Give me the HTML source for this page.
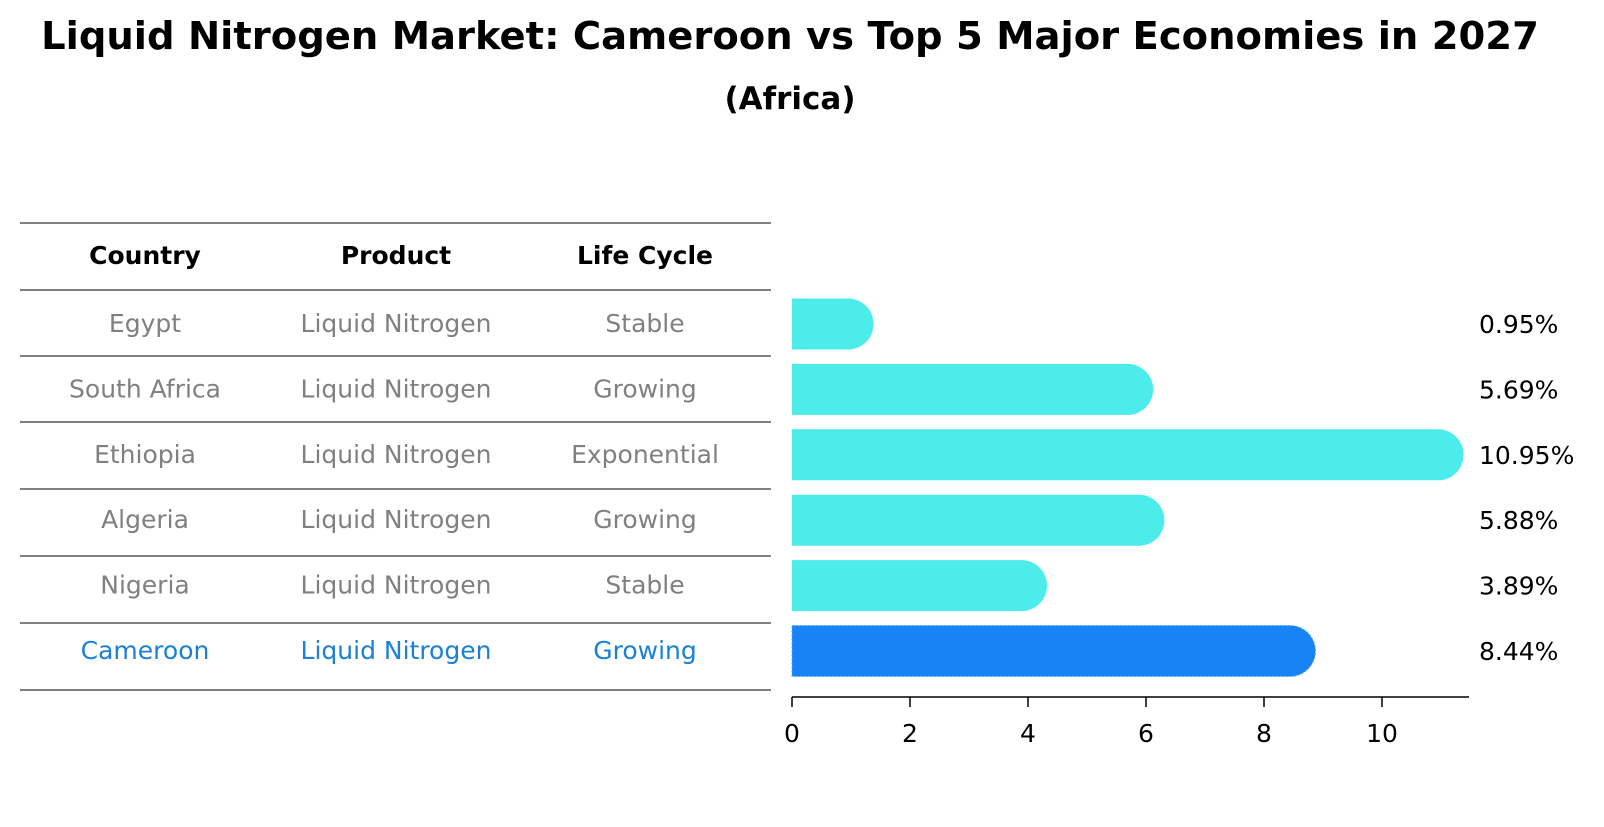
<!DOCTYPE html>
<html><head><meta charset="utf-8"><style>
body{margin:0;background:#fff;font-family:"DejaVu Sans","Liberation Sans",sans-serif;}
</style></head><body>
<svg width="1604" height="823" xmlns="http://www.w3.org/2000/svg" font-family="DejaVu Sans, Liberation Sans, sans-serif">
<text x="790" y="49" text-anchor="middle" font-size="38.5" font-weight="bold">Liquid Nitrogen Market: Cameroon vs Top 5 Major Economies in 2027</text>
<text x="790" y="109" text-anchor="middle" font-size="31" font-weight="bold">(Africa)</text>
<g id="table"></g>
<g id="bars"></g>
</svg>
<script>
const countries=["Egypt","South Africa","Ethiopia","Algeria","Nigeria","Cameroon"];
const products=["Liquid Nitrogen","Liquid Nitrogen","Liquid Nitrogen","Liquid Nitrogen","Liquid Nitrogen","Liquid Nitrogen"];
const lifeCycles=["Stable","Growing","Exponential","Growing","Stable","Growing"];
const values=[0.95,5.69,10.95,5.88,3.89,8.44];
const ticks=[0,2,4,6,8,10];
const NS="http://www.w3.org/2000/svg";
function mk(tag,attrs,parent,txt){const e=document.createElementNS(NS,tag);for(const k in attrs)e.setAttribute(k,attrs[k]);if(txt!==undefined)e.textContent=txt;parent.appendChild(e);return e;}
const xS=v=>792+v*59;
const rowY=i=>324+i*65.4;
const tbl=document.getElementById('table');
const lineYs=[223,290,356,422,489,556,623,690];
lineYs.forEach((y,i)=>{const l=mk('line',{x1:20,x2:771,y1:y,y2:y,stroke:'#000','stroke-width':1},tbl);

});
const colX=[145,396,645];
["Country","Product","Life Cycle"].forEach((h,j)=>{const t=mk('text',{x:colX[j],y:264,'text-anchor':'middle','font-size':25,'font-weight':'bold'},tbl,h);

});
countries.forEach((c,i)=>{const col=i===5?'#1a80d8':'#808080';
[c,products[i],lifeCycles[i]].forEach((v,j)=>{const t=mk('text',{x:colX[j],y:rowY(i)+8,'text-anchor':'middle','font-size':25,fill:col},tbl,v);

});});
const g=document.getElementById('bars');
const h=51;
values.forEach((v,i)=>{const y=rowY(i);const col=i===5?'#1783f5':'#4cecea';
const x1=xS(v);
const attrs={d:`M${xS(0)},${y-h/2} H${x1} A${h/2},${h/2} 0 0 1 ${x1},${y+h/2} H${xS(0)} Z`,fill:col};
if(i===5){attrs.stroke='#5aa8f5';attrs['stroke-dasharray']='2 2';attrs['stroke-width']=1;}
const p=mk('path',attrs,g);


const t=mk('text',{x:1479,y:y+9,'font-size':25},g,v.toFixed(2)+'%');

});
const ax=mk('line',{x1:792,x2:1469,y1:697,y2:697,stroke:'#000','stroke-width':1.5},g);


ticks.forEach(t=>{const l=mk('line',{x1:xS(t),x2:xS(t),y1:697,y2:707,stroke:'#000','stroke-width':1.5},g);


const tx=mk('text',{x:xS(t),y:742,'text-anchor':'middle','font-size':25},g,String(t));

});
</script>
</body></html>
